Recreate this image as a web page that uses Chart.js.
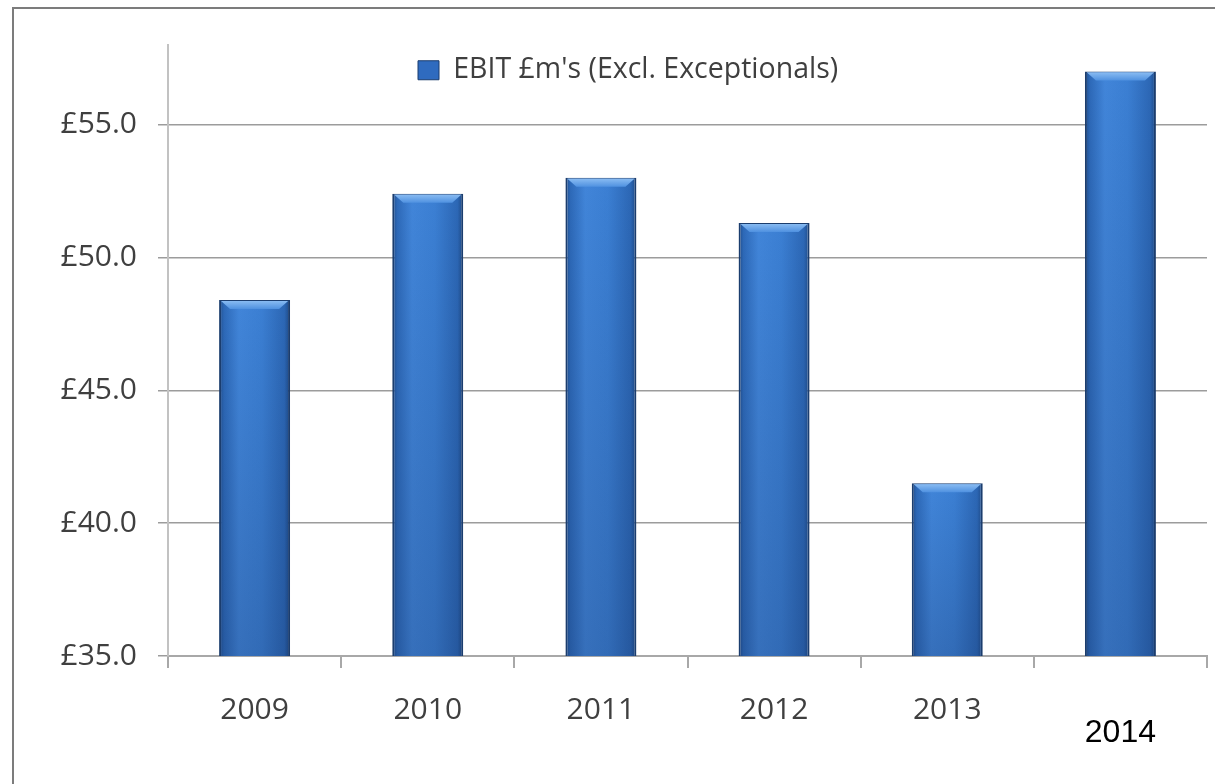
<!DOCTYPE html>
<html>
<head>
<meta charset="utf-8">
<title>EBIT</title>
<script src="https://cdn.jsdelivr.net/npm/chart.js@4.4.1/dist/chart.umd.min.js"></script>
<style>
  html, body { margin: 0; padding: 0; background: #fff; overflow: hidden; }
  #frame {
    position: absolute; left: 12px; top: 7px;
    width: 1260px; height: 820px;
    border: 2px solid #7c7c7c; box-sizing: border-box;
  }
  #wrap { position: absolute; left: 0; top: 0; width: 1215px; height: 784px; }
</style>
</head>
<body>
<div id="frame"></div>
<div id="wrap"><canvas id="chart"></canvas></div>
<script>
const years = ['2009', '2010', '2011', '2012', '2013', '2014'];
const ebit = [48.4, 52.4, 53.0, 51.3, 41.5, 57.0];
const seriesName = "EBIT £m's (Excl. Exceptionals)";
const yMin = 35;
const yMax = 58;
const yStep = 5;

const BAR_PCT = 0.41;
const LEGEND_INSET = 239;
const textGrey = '#3f3f3f';

// horizontal shading across each bar, placed from the category scale
function barFill(c) {
  const chart = c.chart;
  const xs = chart.scales.x;
  if (!xs || !chart.chartArea) return '#3b7fd3';
  const cx = xs.getPixelForValue(c.dataIndex);
  const half = (xs.width / years.length) * BAR_PCT / 2;
  const g = chart.ctx.createLinearGradient(cx - half, 0, cx + half, 0);
  g.addColorStop(0, '#1f4c8a');
  g.addColorStop(0.07, '#2d69b8');
  g.addColorStop(0.28, '#4185d9');
  g.addColorStop(0.6, '#3b7fd3');
  g.addColorStop(0.92, '#2c67b5');
  g.addColorStop(1, '#1d4883');
  return g;
}

// darker toward the axis plus a light bevel on top of every bar
const barGloss = {
  id: 'barGloss',
  afterDatasetsDraw(chart) {
    const ctx = chart.ctx;
    const floor = chart.chartArea.bottom;
    chart.getDatasetMeta(0).data.forEach(bar => {
      const w = bar.width;
      const left = bar.x - w / 2;
      const top = bar.y;
      const bottom = Math.min(bar.base, floor);
      ctx.save();
      const shade = ctx.createLinearGradient(0, top, 0, bottom);
      shade.addColorStop(0, 'rgba(15,35,80,0)');
      shade.addColorStop(1, 'rgba(15,35,80,0.22)');
      ctx.fillStyle = shade;
      ctx.fillRect(left + 2, top, w - 4, bottom - top);

      const bevel = 9;
      ctx.beginPath();
      ctx.moveTo(left + 2, top + 1);
      ctx.lineTo(left + w - 2, top + 1);
      ctx.lineTo(left + w - 2 - bevel, top + bevel);
      ctx.lineTo(left + 2 + bevel, top + bevel);
      ctx.closePath();
      const bg = ctx.createLinearGradient(0, top, 0, top + bevel);
      bg.addColorStop(0, '#8fc0f4');
      bg.addColorStop(1, '#4f91e0');
      ctx.fillStyle = bg;
      ctx.fill();
      ctx.restore();
    });
  }
};

// legend sits inside the plot near its top edge
const legendPlace = {
  id: 'legendPlace',
  afterLayout(chart) {
    const lg = chart.legend;
    const ca = chart.chartArea;
    if (!lg) return;
    const w = lg.width, h = lg.height;
    lg.left = ca.left + LEGEND_INSET;
    lg.right = lg.left + w;
    lg.top = ca.top;
    lg.bottom = ca.top + h;
  }
};

new Chart(document.getElementById('chart'), {
  type: 'bar',
  data: {
    labels: years,
    datasets: [{
      label: seriesName,
      data: ebit,
      backgroundColor: barFill,
      borderColor: '#1b3d6e',
      borderWidth: { left: 2, right: 2, top: 1, bottom: 0 },
      borderSkipped: false,
      barPercentage: BAR_PCT,
      categoryPercentage: 1
    }]
  },
  options: {
    responsive: true,
    maintainAspectRatio: false,
    animation: false,
    layout: { padding: { top: 45, right: 8, left: 0, bottom: 0 } },
    plugins: {
      tooltip: { enabled: false },
      legend: {
        position: 'chartArea',
        align: 'start',
        labels: {
          color: textGrey,
          font: { family: 'Open Sans', size: 28.5 },
          boxWidth: 21,
          boxHeight: 19,
          padding: 11,
          generateLabels(chart) {
            return Chart.defaults.plugins.legend.labels.generateLabels(chart).map(item => {
              item.fillStyle = '#2f6bbf';
              item.strokeStyle = '#1b3d6e';
              item.lineWidth = 1;
              return item;
            });
          }
        }
      }
    },
    scales: {
      x: {
        afterFit(s) { s.height = 128; },
        offset: true,
        border: { color: '#a8a8a8', width: 2 },
        grid: {
          offset: true,
          drawOnChartArea: false,
          tickLength: 12,
          color: '#a8a8a8',
          lineWidth: 2
        },
        ticks: {
          padding: 24,
          color: c => c.index === years.length - 1 ? '#000' : textGrey,
          font: c => c.index === years.length - 1
            ? { family: "'Liberation Sans', Arial", size: 32, lineHeight: 0.85 }
            : { family: 'Open Sans', size: 30 },
          callback(v, i) {
            const label = this.getLabelForValue(v);
            return i === years.length - 1 ? ['', label] : label;
          }
        }
      },
      y: {
        min: yMin,
        max: yMax,
        afterFit(s) { s.width = 168; },
        border: { color: '#c2c2c2', width: 2 },
        grid: { color: '#9c9c9c', lineWidth: 1.5, tickLength: 10 },
        ticks: {
          stepSize: yStep,
          includeBounds: false,
          padding: 21,
          color: textGrey,
          font: { family: 'Open Sans', size: 30 },
          callback: v => '£' + v.toFixed(1)
        }
      }
    }
  },
  plugins: [barGloss, legendPlace]
});
</script>
</body>
</html>
